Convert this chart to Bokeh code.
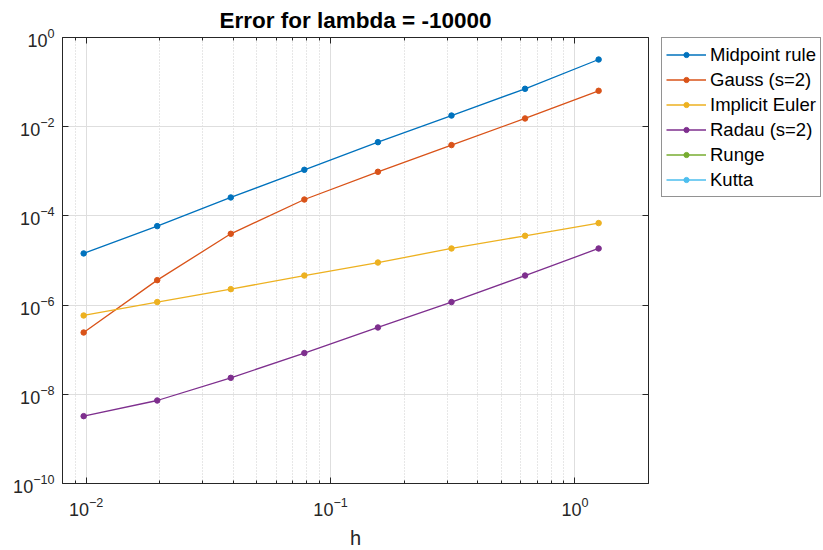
from bokeh.plotting import figure
from bokeh.layouts import row
from bokeh.models import (Range1d, LogAxis, FixedTicker, Legend, LegendItem,
                          CustomJSTickFormatter, Title)
from bokeh.embed import file_html
from bokeh.resources import INLINE

nan = float("nan")

# ---- data ----
h = [0.009765625, 0.01953125, 0.0390625, 0.078125, 0.15625, 0.3125, 0.625, 1.25]
midpoint = [1.44e-5, 5.9e-5, 2.59e-4, 1.08e-3, 4.5e-3, 1.78e-2, 7.08e-2, 3.21e-1]
gauss = [2.43e-7, 3.63e-6, 3.97e-5, 2.33e-4, 9.75e-4, 3.87e-3, 1.53e-2, 6.38e-2]
implicit_euler = [5.85e-7, 1.17e-6, 2.28e-6, 4.6e-6, 9.0e-6, 1.86e-5, 3.58e-5, 6.9e-5]
radau = [3.24e-9, 7.26e-9, 2.34e-8, 8.4e-8, 3.15e-7, 1.17e-6, 4.6e-6, 1.86e-5]
# Runge / Kutta: listed in the legend but no point falls inside the shown y-range
runge = [nan] * 8
kutta = [nan] * 8
series_names = ["Midpoint rule", "Gauss (s=2)", "Implicit Euler", "Radau (s=2)", "Runge", "Kutta"]
colors = ["#0072BD", "#D95319", "#EDB120", "#7E2F8E", "#77AC30", "#4DBEEE"]

x_major = [1e-2, 1e-1, 1e0]
x_minor = [0.008, 0.009, 0.02, 0.03, 0.04, 0.05, 0.06, 0.07, 0.08, 0.09,
           0.2, 0.3, 0.4, 0.5, 0.6, 0.7, 0.8, 0.9, 2.0]
y_major = [1e-10, 1e-8, 1e-6, 1e-4, 1e-2, 1e0]

FONT = "Liberation Sans"
AX = "#262626"

p = figure(frame_width=586, frame_height=446, x_axis_type="log", y_axis_type="log",
           x_range=Range1d(0.008, 2.0), y_range=Range1d(1e-10, 1.0),
           output_backend="svg", toolbar_location=None,
           min_border_left=62, min_border_right=1, min_border_top=37, min_border_bottom=67)
p.outline_line_color = None
p.background_fill_color = "white"
p.border_fill_color = "white"

p.title = Title(text="Error for lambda = -10000", align="center",
                text_font=FONT, text_font_size="22.5px", text_font_style="bold",
                text_color="black", standoff=9)

xt = FixedTicker(ticks=x_major, minor_ticks=x_minor)
yt = FixedTicker(ticks=y_major, minor_ticks=[])

def style_axis(ax, labels=True):
    ax.axis_line_color = AX
    ax.axis_line_width = 1
    ax.major_tick_line_color = AX
    ax.minor_tick_line_color = AX
    ax.major_tick_in = 6
    ax.major_tick_out = 0
    ax.minor_tick_in = 3
    ax.minor_tick_out = 0
    ax.major_label_text_font = FONT
    ax.major_label_text_font_size = "18px"
    ax.major_label_text_color = AX
    ax.axis_label_text_font = FONT
    ax.axis_label_text_font_size = "20px"
    ax.axis_label_text_color = AX
    ax.axis_label_text_font_style = "normal"
    if not labels:
        ax.formatter = CustomJSTickFormatter(code="return ''")
        ax.major_label_standoff = 0

xa = p.xaxis[0]
xa.ticker = xt
style_axis(xa)
xa.axis_label = "h"
xa.major_label_standoff = 13
xa.axis_label_standoff = 8

ya = p.yaxis[0]
ya.ticker = yt
style_axis(ya)
ya.major_label_standoff = 8

top = LogAxis(ticker=FixedTicker(ticks=x_major, minor_ticks=x_minor))
style_axis(top, labels=False)
p.add_layout(top, "above")
right = LogAxis(ticker=FixedTicker(ticks=y_major, minor_ticks=[]))
style_axis(right, labels=False)
p.add_layout(right, "right")

p.xgrid[0].ticker = xt
p.ygrid[0].ticker = yt
for g in (p.xgrid[0], p.ygrid[0]):
    g.grid_line_color = "#dedede"
    g.grid_line_width = 1
p.xgrid[0].minor_grid_line_color = "#cfcfcf"
p.xgrid[0].minor_grid_line_dash = "1 2"
p.ygrid[0].minor_grid_line_color = None

# legend lives in a small companion figure to the right of the axes
lf = figure(width=174, height=550, output_backend="svg", toolbar_location=None,
            x_axis_location=None, y_axis_location=None,
            x_range=Range1d(0, 1), y_range=Range1d(0, 1),
            min_border_left=12, min_border_top=37, min_border_right=0, min_border_bottom=0)
lf.outline_line_color = None
lf.xgrid.visible = False
lf.ygrid.visible = False

all_series = [midpoint, gauss, implicit_euler, radau, runge, kutta]
items = []
for name, ys, c in zip(series_names, all_series, colors):
    p.line(h, ys, line_color=c, line_width=1.3)
    p.scatter(h, ys, size=5.5, fill_color=c, line_color=c)
    # legend proxies (nothing drawn inside the legend figure's ranges)
    l1 = lf.line([nan], [nan], line_color=c, line_width=1.3)
    l2 = lf.scatter([nan], [nan], size=5.5, fill_color=c, line_color=c)
    items.append(LegendItem(label=name, renderers=[l1, l2]))

legend = Legend(items=items, location="top_left",
                label_text_font=FONT, label_text_font_size="18.5px", label_text_color="black",
                border_line_color=AX, border_line_width=1, background_fill_color="white",
                background_fill_alpha=1, glyph_width=40, glyph_height=13, label_height=25,
                label_standoff=4, spacing=0, padding=4, margin=0)
lf.add_layout(legend, "center")

layout = row(p, lf, spacing=0)
open("out.html", "w").write(file_html(layout, INLINE))
